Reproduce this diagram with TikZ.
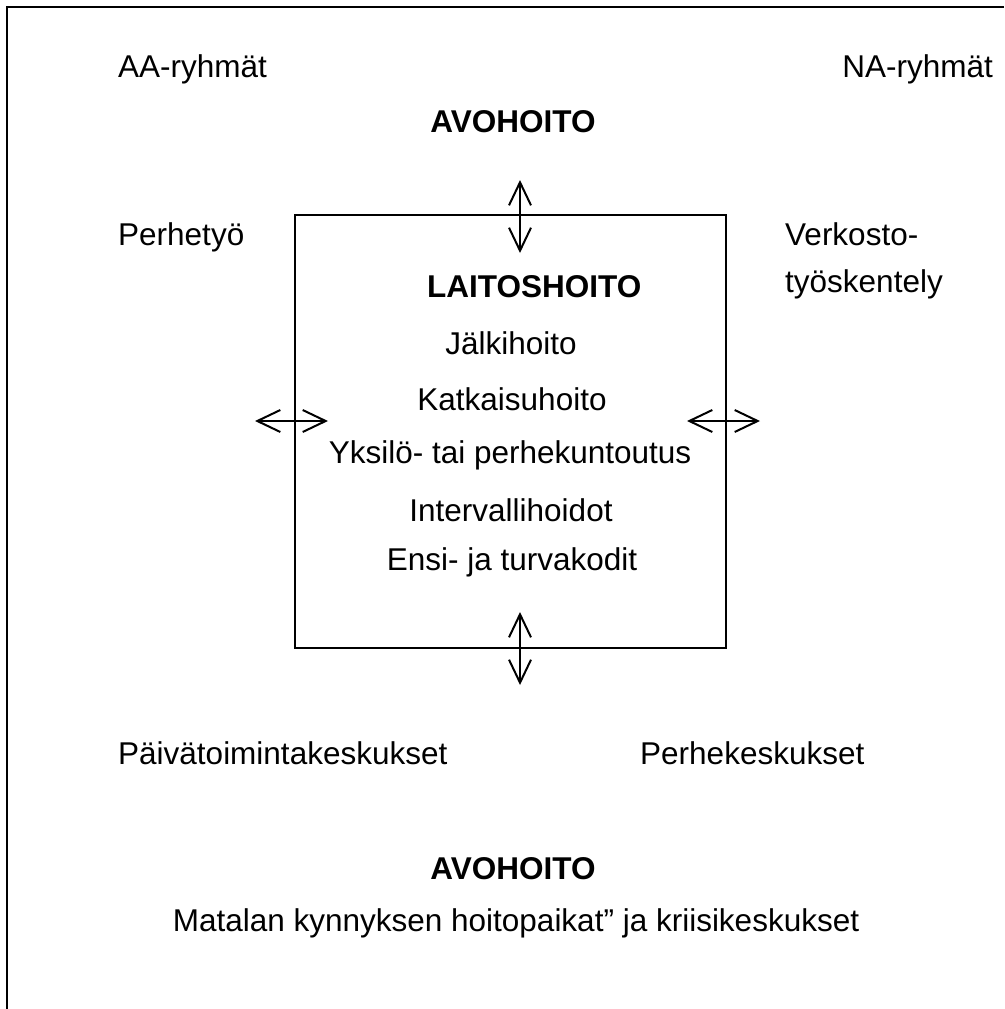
\documentclass[tikz,border=0pt]{standalone}
\usepackage{fontspec}
\setmainfont{Liberation Sans}
\usetikzlibrary{arrows.meta}
\begin{document}
\begin{tikzpicture}[x=1pt,y=-1pt,
  txt/.style={font=\fontsize{31.5}{38}\selectfont, inner sep=0pt},
  btxt/.style={font=\fontsize{31.5}{38}\selectfont\bfseries, inner sep=0pt},
  frameline/.style={line width=2.2pt, black},
  boxline/.style={line width=2pt, black},
  dblarrow/.style={line width=2pt, {Straight Barb[length=23pt,width=22pt,line width=2pt]}-{Straight Barb[length=23pt,width=22pt,line width=2pt]}}
]
\useasboundingbox (0,0) rectangle (1004,1009);
% outer frame (open on right and bottom)
\draw[frameline] (1004,7) -- (7,7) -- (7,1009);
% inner box
\node[draw, boxline, minimum width=431pt, minimum height=433pt, inner sep=0pt] (box) at (510.5,431.5) {};
% arrows
\coordinate (t1) at (520,180); \coordinate (t2) at (520,253);
\coordinate (b1) at (520,612); \coordinate (b2) at (520,685);
\coordinate (l1) at (255,421); \coordinate (l2) at (328,421);
\coordinate (r1) at (687,421); \coordinate (r2) at (760,421);
\draw[dblarrow] (t1) -- (t2);
\draw[dblarrow] (b1) -- (b2);
\draw[dblarrow] (l1) -- (l2);
\draw[dblarrow] (r1) -- (r2);
% texts
\node[txt, anchor=base west] (aa) at (118,77) {AA-ryhmät};
\node[txt, anchor=base east] (na) at (993,77) {NA-ryhmät};
\node[btxt, anchor=base] (avo1) at (513,132) {AVOHOITO};
\node[txt, anchor=base west] (perhe) at (118,245) {Perhetyö};
\node[txt, anchor=base west] (verk1) at (785,245) {Verkosto-};
\node[txt, anchor=base west] (verk2) at (785,292) {työskentely};
\node[btxt, anchor=base west] (lait) at (427,297) {LAITOSHOITO};
\node[txt, anchor=base] (jalki) at (511,354) {Jälkihoito};
\node[txt, anchor=base] (katk) at (512,410) {Katkaisuhoito};
\node[txt, anchor=base] (yks) at (510,463) {Yksilö- tai perhekuntoutus};
\node[txt, anchor=base] (int) at (511,521) {Intervallihoidot};
\node[txt, anchor=base] (ensi) at (512,570) {Ensi- ja turvakodit};
\node[txt, anchor=base west] (paiva) at (118,764) {Päivätoimintakeskukset};
\node[txt, anchor=base west] (perhek) at (640,764) {Perhekeskukset};
\node[btxt, anchor=base] (avo2) at (513,879) {AVOHOITO};
\node[txt, anchor=base] (mat) at (516,931) {Matalan kynnyksen hoitopaikat” ja kriisikeskukset};
\end{tikzpicture}
\end{document}
